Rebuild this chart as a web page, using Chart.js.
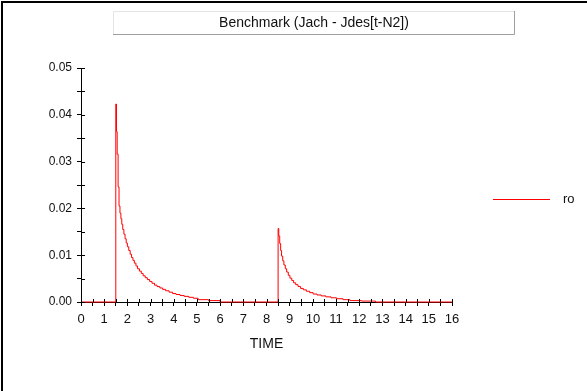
<!DOCTYPE html>
<html>
<head>
<meta charset="utf-8">
<script src="https://cdn.jsdelivr.net/npm/chart.js@4/dist/chart.umd.min.js"></script>
<style>
  html, body { margin: 0; padding: 0; background: #fff; }
  #chart { display: block; }
</style>
</head>
<body>
<canvas id="chart" width="587" height="391"></canvas>
<script>
// chart text
const chartTitle = "Benchmark (Jach - Jdes[t-N2])";
const xAxisTitle = "TIME";
const seriesName = "ro";

// staircase samples (time, value)
const timeValues = [
  0,
  1.50, 1.53, 1.56, 1.60, 1.64, 1.68, 1.72, 1.76, 1.80, 1.85, 1.90, 1.95,
  2.00, 2.06, 2.12, 2.18, 2.24, 2.30, 2.37, 2.44, 2.52, 2.60, 2.68, 2.77,
  2.86, 2.96, 3.06, 3.17, 3.28, 3.40, 3.52, 3.65, 3.80, 3.95, 4.10, 4.27,
  4.45, 4.65, 4.85, 5.05, 5.50, 6.00,
  8.50, 8.53, 8.57, 8.61, 8.65, 8.70, 8.75, 8.81, 8.87, 8.94, 9.01, 9.09,
  9.17, 9.26, 9.36, 9.47, 9.59, 9.72, 9.86, 10.01, 10.18, 10.36, 10.56,
  10.78, 11.02, 11.30, 11.60, 12.10, 12.70,
  16
];
const roValues = [
  0,
  0.0423, 0.0364, 0.0316, 0.0246, 0.0205, 0.0190, 0.0178, 0.0166, 0.0155, 0.0145, 0.0135, 0.0126,
  0.0118, 0.0110, 0.0102, 0.0095, 0.0089, 0.0083, 0.0077, 0.0071, 0.0066, 0.0061, 0.0056, 0.0052,
  0.0048, 0.0044, 0.0040, 0.0036, 0.0033, 0.0030, 0.0027, 0.0024, 0.0021, 0.0018, 0.0016, 0.0014,
  0.0012, 0.0010, 0.0008, 0.0005, 0.0003, 0,
  0.0157, 0.0141, 0.0125, 0.0110, 0.0098, 0.0088, 0.0079, 0.0071, 0.0064, 0.0057, 0.0051, 0.0046,
  0.0041, 0.0037, 0.0033, 0.0029, 0.0026, 0.0023, 0.0020, 0.0017, 0.0015, 0.0013, 0.0011,
  0.0009, 0.0007, 0.0005, 0.0003, 0.0002, 0,
  0
];

// axis ranges
const xRange = [0, 16];
const xStep = 0.5;
const yRange = [0, 0.05];
const yStep = 0.005;

const points = timeValues.map((t, i) => ({ x: t, y: roValues[i] }));
const fontFamily = "'Liberation Sans', Arial, sans-serif";

// frame, title box, inner tick halves and the legend
const decorations = {
  id: "decorations",
  beforeDraw(chart) {
    const ctx = chart.ctx;
    ctx.save();
    ctx.fillStyle = "#fff";
    ctx.fillRect(0, 0, chart.width, chart.height);

    // outer frame (top and left only)
    ctx.strokeStyle = "#000";
    ctx.lineWidth = 2;
    ctx.beginPath();
    ctx.moveTo(chart.width, 2);
    ctx.lineTo(2, 2);
    ctx.lineTo(2, chart.height);
    ctx.stroke();

    // title box
    ctx.lineWidth = 1;
    ctx.strokeStyle = "#e4e4e4";
    ctx.beginPath();
    ctx.moveTo(113.5, 34);
    ctx.lineTo(113.5, 11.5);
    ctx.lineTo(515, 11.5);
    ctx.stroke();
    ctx.strokeStyle = "#a0a0a0";
    ctx.beginPath();
    ctx.moveTo(514.5, 11);
    ctx.lineTo(514.5, 34.5);
    ctx.lineTo(113, 34.5);
    ctx.stroke();

    ctx.fillStyle = "#111";
    ctx.font = "14px " + fontFamily;
    ctx.textAlign = "center";
    ctx.textBaseline = "middle";
    ctx.fillText(chartTitle, 314, 23);
    ctx.restore();
  },
  afterDatasetsDraw(chart) {
    const ctx = chart.ctx;
    const { x, y } = chart.scales;
    const area = chart.chartArea;
    ctx.save();
    ctx.strokeStyle = "#000";
    ctx.lineWidth = 1;
    ctx.beginPath();
    x.ticks.forEach(t => {
      const px = Math.round(x.getPixelForValue(t.value)) + 0.5;
      ctx.moveTo(px, area.bottom);
      ctx.lineTo(px, area.bottom - 3);
    });
    y.ticks.forEach(t => {
      const py = Math.round(y.getPixelForValue(t.value)) + 0.5;
      ctx.moveTo(area.left, py);
      ctx.lineTo(area.left + 4, py);
    });
    ctx.stroke();
    ctx.restore();
  },
  afterDraw(chart) {
    const ctx = chart.ctx;
    const ds = chart.data.datasets[0];
    ctx.save();
    ctx.strokeStyle = ds.borderColor;
    ctx.lineWidth = 1;
    ctx.beginPath();
    ctx.moveTo(493, 199.5);
    ctx.lineTo(550, 199.5);
    ctx.stroke();
    ctx.fillStyle = "#111";
    ctx.font = "13px " + fontFamily;
    ctx.textAlign = "left";
    ctx.textBaseline = "middle";
    ctx.fillText(ds.label, 563, 199);
    ctx.restore();
  }
};

new Chart(document.getElementById("chart"), {
  type: "line",
  data: {
    datasets: [{
      label: seriesName,
      data: points,
      borderColor: "#ff0000",
      borderWidth: 1,
      stepped: "before",
      pointRadius: 0,
      fill: false,
      clip: false
    }]
  },
  options: {
    responsive: false,
    animation: false,
    events: [],
    layout: { padding: { left: 0, right: 135, top: 68, bottom: 0 } },
    plugins: {
      legend: { display: false },
      title: { display: false },
      tooltip: { enabled: false }
    },
    scales: {
      x: {
        type: "linear",
        min: xRange[0],
        max: xRange[1],
        grid: { drawOnChartArea: false, tickLength: 4, color: "#000" },
        border: { color: "#000", width: 1 },
        ticks: {
          stepSize: xStep,
          autoSkip: false,
          maxRotation: 0,
          padding: 6,
          color: "#111",
          font: { family: fontFamily, size: 13 },
          callback: v => Number.isInteger(v) ? String(v) : ""
        },
        title: {
          display: true,
          text: xAxisTitle,
          color: "#111",
          font: { family: fontFamily, size: 14 },
          padding: { top: 4, bottom: 38 }
        },
        afterFit: s => { s.height = 89; }
      },
      y: {
        min: yRange[0],
        max: yRange[1],
        grid: { drawOnChartArea: false, tickLength: 4, color: "#000" },
        border: { color: "#000", width: 1 },
        ticks: {
          stepSize: yStep,
          autoSkip: false,
          padding: 5,
          color: "#111",
          font: { family: fontFamily, size: 12 },
          callback: v => Math.round(v * 1000) % 10 === 0 ? v.toFixed(2) : ""
        },
        afterFit: s => { s.width = 81; }
      }
    }
  },
  plugins: [decorations]
});
</script>
</body>
</html>
